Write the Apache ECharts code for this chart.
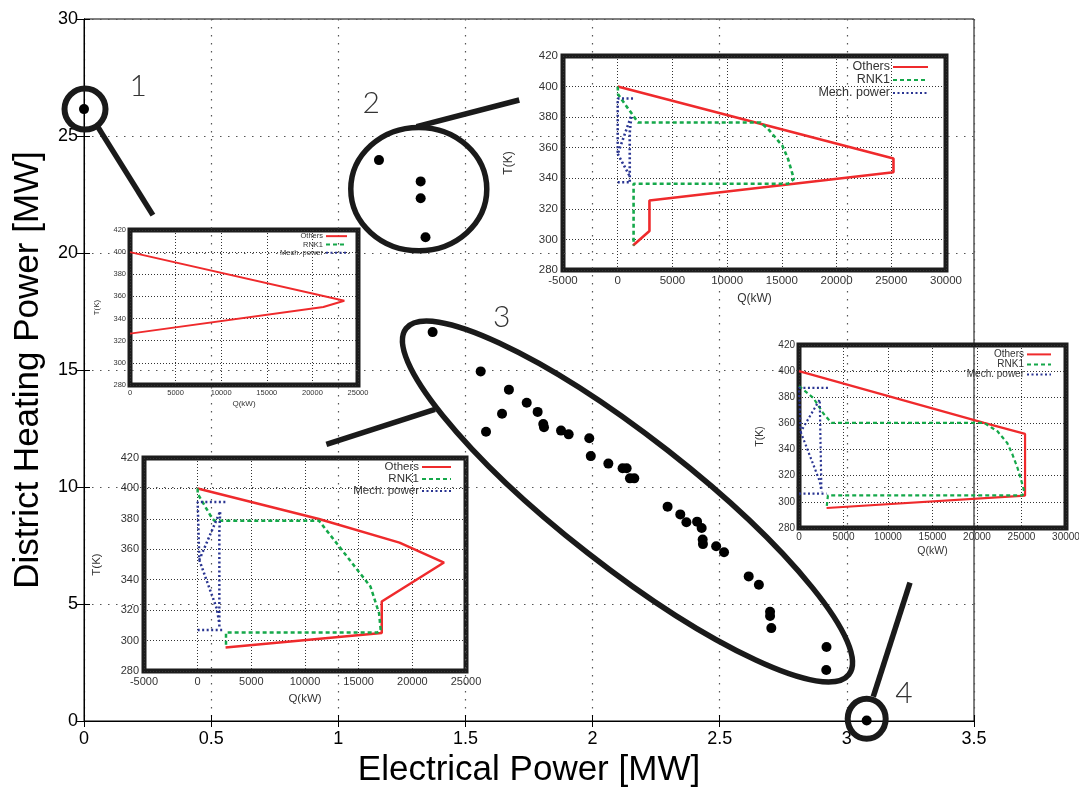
<!DOCTYPE html>
<html>
<head>
<meta charset="utf-8">
<script src="https://cdn.jsdelivr.net/npm/echarts@6/dist/echarts.min.js"></script>
<style>
  html, body { margin: 0; padding: 0; background: #fff; }
  #chart { width: 1079px; height: 788px; }
</style>
</head>
<body>
<div id="chart"></div>
<script>
// ---- Operating points: [electrical power MW, district heating power MW] ----
const pointsCase1 = [[0.0, 26.15]];
const pointsCase2 = [[1.160, 23.97], [1.324, 23.06], [1.324, 22.34], [1.343, 20.67]];
const pointsCase3 = [
  [1.371, 16.62], [1.560, 14.94], [1.671, 14.16], [1.741, 13.60], [1.644, 13.13],
  [1.784, 13.21], [1.806, 12.69], [1.809, 12.55], [1.581, 12.36], [1.876, 12.41],
  [1.906, 12.25], [1.987, 12.08], [1.993, 11.32], [2.062, 11.00], [2.118, 10.80],
  [2.134, 10.80], [2.147, 10.37], [2.164, 10.37], [2.295, 9.16], [2.345, 8.83],
  [2.369, 8.49], [2.411, 8.52], [2.429, 8.25], [2.433, 7.76], [2.434, 7.56],
  [2.486, 7.47], [2.517, 7.21], [2.614, 6.18], [2.654, 5.82], [2.698, 4.67],
  [2.698, 4.49], [2.703, 3.97], [2.920, 3.16], [2.919, 2.18]
];
const pointsCase4 = [[3.078, 0.02]];

// ---- Composite curves for each case: [Q kW, T K]; '-' pairs break a line ----
const GAP = ['-', '-'];
const othersCase1 = [[0, 400], [23500, 356.1], [21200, 350.4], [0, 326.4]];

const othersCase2 = [[0, 400], [25200, 353], [25200, 344], [2900, 325.5], [2900, 305.5], [1400, 296]];
const rnk1Case2 = [[0, 400], [30, 395], [1850, 376.5], [13050, 376.5], [13750, 372.2], [15050, 361.3],
  [15570, 352.6], [16100, 339.6], [15570, 336.4], [1450, 336.4], [1450, 296]];
const mechCase2 = [[1400, 392.2], [0, 392.2], [0, 356], [1250, 381], [1100, 370], [1100, 337.4], GAP,
  [0, 356], [1050, 342], GAP, [0, 337.4], [1200, 337.4]];

const othersCase3 = [[0, 400], [11300, 379.9], [18800, 364.4], [22950, 351.3], [17150, 325.7],
  [17150, 304.9], [2600, 295.5]];
const rnk1Case3 = [[0, 400], [0, 396.5], [1350, 380.3], [1550, 378.8], [11300, 378.8], [13200, 361.7],
  [15000, 345.4], [16100, 335.5], [16900, 318], [17050, 307.1], [16750, 305.3], [2640, 305.3], [2640, 296.5]];
const mechCase3 = [[2580, 391.1], [0, 391.1], [150, 391.1], [150, 353], [2100, 385], [2020, 372], [2020, 309], GAP,
  [150, 353], [1800, 320.6], [2020, 311], GAP, [0, 307], [2420, 307]];

const othersCase4 = [[0, 400], [20800, 360.4], [25400, 352], [25400, 304.8], [3100, 295.3]];
const rnk1Case4 = [[0, 388.5], [1600, 379.6], [2700, 368], [3650, 360.4], [20800, 360.4], [22300, 354],
  [23400, 345], [24000, 336], [24550, 326], [25000, 315.7], [25300, 308], [25100, 305], [3250, 305], [3100, 295.3]];
const mechCase4 = [[3250, 387.2], [0, 387.2], [190, 387.2], [190, 353.5], [2330, 378.3], [2520, 377], [2520, 308], GAP,
  [190, 353.5], [2330, 315.7], [2520, 308], GAP, [0, 306.3], [3080, 306.3]];

const legendNames = ['Others', 'RNK1', 'Mech. power'];

const FONT = '"Liberation Sans", Arial, Helvetica, sans-serif';
const RED = '#ef2a2c', GREEN = '#15a84a', BLUE = '#2a3592';

const chart = echarts.init(document.getElementById('chart'), null, { renderer: 'canvas' });

const grids = [{ left: 84, top: 19, width: 890, height: 702, show: true, borderColor: '#000', borderWidth: 1,
  containLabel: false, outerBoundsMode: 'none' }];
const xAxes = [
  {
    gridIndex: 0, type: 'value', min: 0, max: 3.5, interval: 0.5,
    name: 'Electrical Power [MW]', nameLocation: 'middle', nameGap: 31,
    nameTextStyle: { fontFamily: FONT, fontSize: 35, color: '#000', verticalAlign: 'top' },
    axisLine: { show: true, lineStyle: { color: '#000', width: 1 } },
    axisTick: { show: true, inside: true, length: 6, lineStyle: { color: '#000' } },
    axisLabel: { fontFamily: FONT, fontSize: 18, color: '#000', margin: 9 },
    splitLine: { show: true, lineStyle: { color: '#555', width: 1.2, type: [1.5, 6.5] } }
  },
  {
    gridIndex: 0, type: 'value', position: 'top', min: 0, max: 3.5, interval: 0.5,
    axisLine: { show: true, lineStyle: { color: '#000', width: 1 } },
    axisTick: { show: true, inside: true, length: 6, lineStyle: { color: '#000' } },
    axisLabel: { show: false }, splitLine: { show: false }
  }
];
const yAxes = [
  {
    gridIndex: 0, type: 'value', min: 0, max: 30, interval: 5,
    name: 'District Heating Power [MW]', nameLocation: 'middle', nameGap: 38,
    nameTextStyle: { fontFamily: FONT, fontSize: 35, color: '#000' },
    axisLine: { show: true, lineStyle: { color: '#000', width: 1 } },
    axisTick: { show: true, inside: true, length: 6, lineStyle: { color: '#000' } },
    axisLabel: { fontFamily: FONT, fontSize: 18, color: '#000', margin: 6 },
    splitLine: { show: true, lineStyle: { color: '#555', width: 1.2, type: [1.5, 6.5] } }
  },
  {
    gridIndex: 0, type: 'value', position: 'right', min: 0, max: 30, interval: 5,
    axisLine: { show: true, lineStyle: { color: '#000', width: 1 } },
    axisTick: { show: true, inside: true, length: 8, lineStyle: { color: '#000' } },
    axisLabel: { show: false }, splitLine: { show: false }
  }
];

const series = [{
  type: 'scatter', name: 'Operating points', xAxisIndex: 0, yAxisIndex: 0,
  symbol: 'circle', symbolSize: 10, itemStyle: { color: '#000', opacity: 1 },
  data: [].concat(pointsCase1, pointsCase2, pointsCase3, pointsCase4), z: 5
}];
const legends = [];

// Small T–Q inset diagrams
const insets = [
  { box: { left: 130, top: 230, width: 228, height: 155 }, xMin: 0, xMax: 25000, font: 7.5, lw: 2,
    yGap: 29, xGap: 15, lblMargin: 4, legend: { right: 731, top: 232, iw: 21, rowH: 8.3, font: 7.5 },
    curves: [othersCase1, null, null] },
  { box: { left: 563, top: 56, width: 383, height: 214 }, xMin: -5000, xMax: 30000, font: 11.5, lw: 2.6,
    yGap: 48, xGap: 23, lblMargin: 5, legend: { right: 150, top: 60.5, iw: 35, rowH: 11, font: 12.5 },
    curves: [othersCase2, rnk1Case2, mechCase2] },
  { box: { left: 144, top: 458, width: 322, height: 213 }, xMin: -5000, xMax: 25000, font: 11, lw: 2.5,
    yGap: 41, xGap: 22, lblMargin: 5, legend: { right: 627, top: 461, iw: 29, rowH: 11.3, font: 11.5 },
    curves: [othersCase3, rnk1Case3, mechCase3] },
  { box: { left: 799, top: 345, width: 267, height: 183 }, xMin: 0, xMax: 30000, font: 10, lw: 2.2,
    yGap: 33, xGap: 18, lblMargin: 4, legend: { right: 27, top: 349.4, iw: 24, rowH: 9.3, font: 10 },
    curves: [othersCase4, rnk1Case4, mechCase4] }
];

insets.forEach((ins, k) => {
  const gi = grids.length;
  grids.push(Object.assign({ show: true, borderColor: '#1c1c1c', borderWidth: 5, backgroundColor: 'transparent',
    containLabel: false, outerBoundsMode: 'none' }, ins.box));
  const xi = xAxes.length, yi = yAxes.length;
  const grid = { show: true, lineStyle: { color: '#333', width: 1, type: [1, 2] } };
  xAxes.push({
    gridIndex: gi, type: 'value', min: ins.xMin, max: ins.xMax, interval: 5000,
    name: 'Q(kW)', nameLocation: 'middle', nameGap: ins.xGap,
    nameTextStyle: { fontFamily: FONT, fontSize: ins.font + 0.5, color: '#333', verticalAlign: 'top' },
    axisLine: { show: false }, axisTick: { show: false },
    axisLabel: { fontFamily: FONT, fontSize: ins.font, color: '#333', margin: ins.lblMargin, formatter: v => String(v) },
    splitLine: grid
  });
  yAxes.push({
    gridIndex: gi, type: 'value', min: 280, max: 420, interval: 20,
    name: 'T(K)', nameLocation: 'middle', nameGap: ins.yGap,
    nameTextStyle: { fontFamily: FONT, fontSize: ins.font + 0.5, color: '#333' },
    axisLine: { show: false }, axisTick: { show: false },
    axisLabel: { fontFamily: FONT, fontSize: ins.font, color: '#333', margin: ins.lblMargin },
    splitLine: grid
  });
  const styles = [
    { color: RED, type: 'solid' },
    { color: GREEN, type: [4, 3] },
    { color: BLUE, type: [2, 2.5] }
  ];
  ins.curves.forEach((data, j) => {
    if (!data) return;
    series.push({
      type: 'line', name: legendNames[j], xAxisIndex: xi, yAxisIndex: yi,
      data: data, symbol: 'none', connectNulls: false, silent: true,
      lineStyle: { color: styles[j].color, width: ins.lw, type: styles[j].type },
      itemStyle: { color: styles[j].color }, z: 3
    });
  });
  const lg = ins.legend;
  legends.push({
    data: legendNames, orient: 'vertical', align: 'right', selectedMode: false,
    right: lg.right, top: lg.top, padding: 0, itemGap: 0,
    itemWidth: lg.iw, itemHeight: lg.rowH * 0.8,
    // line-only keys: hide the marker dot drawn on the key line
    itemStyle: { opacity: 0, color: 'transparent', borderWidth: 0 },
    textStyle: { fontFamily: FONT, fontSize: lg.font, color: '#333', lineHeight: lg.rowH, padding: [0, -2, 0, 0] }
  });
});

const option = {
  animation: false,
  backgroundColor: '#fff',
  grid: grids, xAxis: xAxes, yAxis: yAxes,
  legend: legends,
  series: series
};
chart.setOption(option);

// ---- Callouts: positions in main-axis units (MW, MW) ----
const callouts = [
  { kind: 'ellipse', at: [0.004, 26.15], rx: 20.5, ry: 20.5, w: 6 },
  { kind: 'line', from: [0.055, 25.38], to: [0.271, 21.62], w: 5.5 },
  { kind: 'text', at: [0.2135, 27.11], text: '1' },
  { kind: 'ellipse', at: [1.3166, 22.73], rx: 68, ry: 61.7, w: 5.5 },
  { kind: 'line', from: [1.3078, 25.40], to: [1.7118, 26.54], w: 5.5 },
  { kind: 'text', at: [1.1294, 26.40], text: '2' },
  { kind: 'ellipse', at: [2.1373, 9.38], rx: 281, ry: 65, angle: -38, w: 5.5 },
  { kind: 'line', from: [1.3803, 13.32], to: [0.9532, 11.82], w: 5.5 },
  { kind: 'text', at: [1.6426, 17.25], text: '3' },
  { kind: 'ellipse', at: [3.078, 0.094], rx: 19, ry: 20, w: 6 },
  { kind: 'line', from: [3.1039, 1.038], to: [3.2483, 5.91], w: 5.5 },
  { kind: 'text', at: [3.2247, 1.184], text: '4' }
];
const toPx = p => chart.convertToPixel({ xAxisIndex: 0, yAxisIndex: 0 }, p);
const graphics = callouts.map(c => {
  if (c.kind === 'ellipse') {
    const p = toPx(c.at);
    return { type: 'ellipse', x: p[0], y: p[1], rotation: (c.angle || 0) * Math.PI / 180,
      shape: { cx: 0, cy: 0, rx: c.rx, ry: c.ry },
      style: { fill: null, stroke: '#1a1a1a', lineWidth: c.w }, z: 20, silent: true };
  }
  if (c.kind === 'line') {
    const a = toPx(c.from), b = toPx(c.to);
    return { type: 'line', shape: { x1: a[0], y1: a[1], x2: b[0], y2: b[1] },
      style: { stroke: '#1a1a1a', lineWidth: c.w, lineCap: 'butt' }, z: 20, silent: true };
  }
  const p = toPx(c.at);
  return { type: 'text', x: p[0], y: p[1], z: 20, silent: true,
    style: { text: c.text, fontFamily: 'Lato, "Open Sans", sans-serif', fontWeight: 300, fontSize: 30,
      fill: '#333', align: 'center', verticalAlign: 'middle' } };
});
chart.setOption({ graphic: graphics });
</script>
</body>
</html>
